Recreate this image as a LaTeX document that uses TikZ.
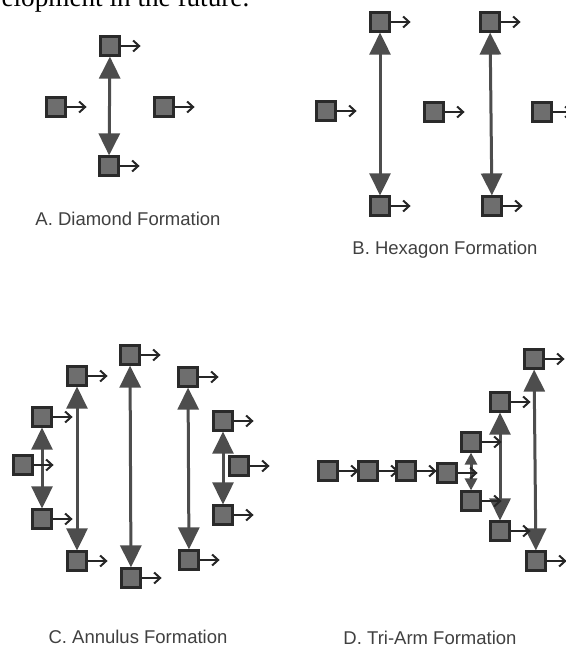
\documentclass[tikz,border=0pt]{standalone}
\usepackage{fontspec}
\setmainfont{Liberation Serif}
\setsansfont{Liberation Sans}
\usetikzlibrary{arrows.meta,backgrounds}
\definecolor{boxfill}{HTML}{6E6E6E}
\definecolor{boxline}{HTML}{2A2A2A}
\definecolor{linkgray}{HTML}{4D4D4D}
\definecolor{capgray}{HTML}{404040}
\tikzset{
	agent/.style={draw=boxline, fill=boxfill, line width=2.2pt, minimum size=19pt, inner sep=0pt},
	heading/.style={-{Straight Barb[length=6pt,width=11pt]}, line width=2pt, draw=black!85},
	link/.style={{Triangle[width=21pt,length=22pt]}-{Triangle[width=21pt,length=22pt]}, line width=3pt, draw=linkgray},
	shortlink/.style={{Triangle[width=12pt,length=12pt]}-{Triangle[width=12pt,length=12pt]}, line width=3pt, draw=linkgray},
	caption/.style={font=\sffamily\fontsize{18.5}{20}\selectfont, text=capgray}
}
% a square agent with its heading arrow
\newcommand{\agent}[2]{%
	\node[agent] (#1) at (#2) {};
	\coordinate (#1h) at ([xshift=20pt]#1.east);
	\draw[heading] (#1) to (#1h);}

\begin{document}
\begin{tikzpicture}[x=1pt,y=-1pt]
	\useasboundingbox (0,0) rectangle (565,653);
	\node[anchor=base west, font=\fontsize{27.2}{31}\selectfont] (topline) at (-2,6) {elopment in the future.};
	%
	% A. diamond
	\agent{aN}{110,46}
	\agent{aW}{56,107}
	\agent{aE}{164,107}
	\agent{aS}{109,166}
	\node[caption] (capA) at (128,219) {A. Diamond Formation};
	%
	% B. hexagon
	\agent{bNW}{380,22}
	\agent{bNE}{490,22}
	\agent{bW}{326,111}
	\agent{bC}{434,112}
	\agent{bE}{542,112}
	\agent{bSW}{380,206}
	\agent{bSE}{492,206}
	\node[caption] (capB) at (445,250) {B. Hexagon Formation};
	%
	% C. annulus
	\agent{cN}{130,355}
	\agent{cNW}{77,376}
	\agent{cNE}{188,377}
	\agent{cWa}{42,417}
	\agent{cW}{23,465}
	\agent{cWb}{42,519}
	\agent{cSW}{77,561}
	\agent{cS}{131,578}
	\agent{cSE}{189,560}
	\agent{cEa}{223,421}
	\agent{cE}{239,466}
	\agent{cEb}{223,515}
	\node[caption] (capC) at (138,637) {C. Annulus Formation};
	%
	% D. tri-arm
	\agent{dA}{328,471}
	\agent{dB}{368,471}
	\agent{dC}{406,471}
	\agent{dD}{447,473}
	\agent{dEu}{471,442}
	\agent{dEl}{471,501}
	\agent{dFu}{500,402}
	\agent{dFl}{500,531}
	\agent{dGu}{534,359}
	\agent{dGl}{536,561}
	\node[caption] (capD) at (430,638) {D. Tri-Arm Formation};
	%
	\begin{scope}[on background layer]
		\draw[link] (aN) to (aS);
		\draw[link] (bNW) to (bSW);
		\draw[link] (bNE) to (bSE);
		\draw[link] (cWa) to (cWb);
		\draw[link] (cNW) to (cSW);
		\draw[link] (cN) to (cS);
		\draw[link] (cNE) to (cSE);
		\draw[link] (cEa) to (cEb);
		\draw[shortlink] (dEu) to (dEl);
		\draw[link] (dFu) to (dFl);
		\draw[link] (dGu) to (dGl);
	\end{scope}
\end{tikzpicture}
\end{document}
